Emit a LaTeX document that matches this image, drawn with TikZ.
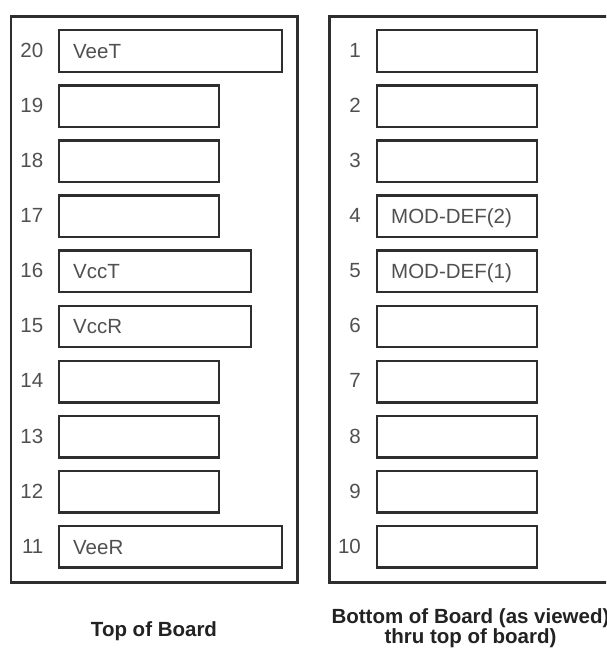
\documentclass[tikz,border=0pt]{standalone}
\usepackage{fontspec}
\setmainfont{Liberation Sans}
\definecolor{linec}{HTML}{2E2E2E}
\definecolor{textc}{HTML}{505050}
\definecolor{capc}{HTML}{222222}
\begin{document}
\begin{tikzpicture}[x=1pt,y=-1pt,
  every node/.style={font=\fontsize{20.5}{20}\selectfont},
  board/.style={draw=linec, line width=2.6pt, rectangle, anchor=north west, inner sep=0pt},
  pinbox/.style={draw=linec, line width=2.4pt, rectangle, anchor=north west,
    minimum height=41.5pt, inner xsep=14pt, inner ysep=0pt, align=left,
    text=textc, text height=15pt, text depth=0pt},
  longpin/.style={pinbox, text width=195pt},
  medpin/.style={pinbox, text width=164pt},
  shortpin/.style={pinbox, text width=132pt},
  pinnum/.style={anchor=base east, inner sep=0pt, text=textc},
  caption/.style={font=\fontsize{20.5}{20}\selectfont\bfseries, text=capc, align=center, inner sep=0pt}
]
\clip (0,0) rectangle (606,654);
\useasboundingbox (0,0) rectangle (606,654);
\fill[white] (0,0) rectangle (606,654);

% boards
\node[board, minimum width=286.5pt, minimum height=566pt] (top) at (9.5,15) {};
\node[board, minimum width=320pt, minimum height=566pt] (bottom) at (328,15) {};

% left column (pins 20..11)
\node[longpin]  (p20) at (58,29.0)  {VeeT};
\node[shortpin] (p19) at (58,84.1)  {};
\node[shortpin] (p18) at (58,139.2) {};
\node[shortpin] (p17) at (58,194.3) {};
\node[medpin]   (p16) at (58,249.4) {VccT};
\node[medpin]   (p15) at (58,304.5) {VccR};
\node[shortpin] (p14) at (58,359.6) {};
\node[shortpin] (p13) at (58,414.7) {};
\node[shortpin] (p12) at (58,469.8) {};
\node[longpin]  (p11) at (58,524.9) {VeeR};

\node[pinnum] (n20) at (43.5,57.3)  {20};
\node[pinnum] (n19) at (43.5,112.4) {19};
\node[pinnum] (n18) at (43.5,167.5) {18};
\node[pinnum] (n17) at (43.5,222.6) {17};
\node[pinnum] (n16) at (43.5,277.7) {16};
\node[pinnum] (n15) at (43.5,332.8) {15};
\node[pinnum] (n14) at (43.5,387.9) {14};
\node[pinnum] (n13) at (43.5,443.0) {13};
\node[pinnum] (n12) at (43.5,498.1) {12};
\node[pinnum] (n11) at (43.5,553.2) {11};

% right column (pins 1..10)
\node[shortpin] (p1)  at (376,29.0)  {};
\node[shortpin] (p2)  at (376,84.1)  {};
\node[shortpin] (p3)  at (376,139.2) {};
\node[shortpin] (p4)  at (376,194.3) {MOD-DEF(2)};
\node[shortpin] (p5)  at (376,249.4) {MOD-DEF(1)};
\node[shortpin] (p6)  at (376,304.5) {};
\node[shortpin] (p7)  at (376,359.6) {};
\node[shortpin] (p8)  at (376,414.7) {};
\node[shortpin] (p9)  at (376,469.8) {};
\node[shortpin] (p10) at (376,524.9) {};

\node[pinnum] (n1)  at (361,57.3)  {1};
\node[pinnum] (n2)  at (361,112.4) {2};
\node[pinnum] (n3)  at (361,167.5) {3};
\node[pinnum] (n4)  at (361,222.6) {4};
\node[pinnum] (n5)  at (361,277.7) {5};
\node[pinnum] (n6)  at (361,332.8) {6};
\node[pinnum] (n7)  at (361,387.9) {7};
\node[pinnum] (n8)  at (361,443.0) {8};
\node[pinnum] (n9)  at (361,498.1) {9};
\node[pinnum] (n10) at (361,553.2) {10};

% captions
\node[caption, anchor=base] (captop) at (154,636.7) {Top of Board};
\node[caption, anchor=north] (capbot) at (470.5,608.5) {Bottom of Board (as viewed)\\thru top of board)};
\end{tikzpicture}
\end{document}
